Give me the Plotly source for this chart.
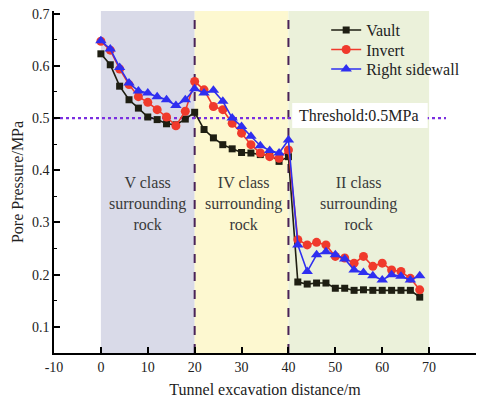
import plotly.graph_objects as go

# Excavation distance (m), one reading every 2 m
distance = list(range(0, 70, 2))

vault = [0.623, 0.602, 0.561, 0.535, 0.519, 0.502, 0.497, 0.489, 0.487, 0.498,
         0.511, 0.478, 0.462, 0.449, 0.441, 0.434, 0.433, 0.430, 0.430, 0.417,
         0.426, 0.186, 0.182, 0.184, 0.184, 0.174, 0.174, 0.170, 0.171, 0.170,
         0.170, 0.170, 0.170, 0.170, 0.157]
invert = [0.647, 0.630, 0.594, 0.564, 0.541, 0.530, 0.516, 0.502, 0.485, 0.513,
          0.570, 0.554, 0.522, 0.516, 0.490, 0.471, 0.449, 0.433, 0.426, 0.423,
          0.439, 0.267, 0.257, 0.262, 0.257, 0.235, 0.232, 0.222, 0.235, 0.216,
          0.222, 0.209, 0.206, 0.193, 0.171]
right_sidewall = [0.648, 0.632, 0.597, 0.567, 0.552, 0.548, 0.541, 0.535, 0.524, 0.535,
                  0.556, 0.548, 0.553, 0.532, 0.500, 0.484, 0.465, 0.447, 0.438, 0.433,
                  0.458, 0.257, 0.206, 0.238, 0.244, 0.238, 0.230, 0.209, 0.204, 0.198,
                  0.190, 0.200, 0.197, 0.190, 0.198]

threshold = 0.5
zone_bounds = [0, 20, 40, 70]
zone_colors = ["#d9dae8", "#fdf8d0", "#ebf1da"]
zone_labels = ["V class<br>surrounding<br>rock",
               "IV class<br>surrounding<br>rock",
               "II class<br>surrounding<br>rock"]
zone_label_x = [10, 30.5, 55]

x_ticks = list(range(-10, 81, 10))
x_ticktext = [str(v).replace("\u2212", "-") for v in x_ticks]
y_ticks = [0.1, 0.2, 0.3, 0.4, 0.5, 0.6, 0.7]

FONT = "Liberation Serif, Times New Roman, serif"
TXT = "#222222"

fig = go.Figure()

# rock-class zones
for i, col in enumerate(zone_colors):
    fig.add_shape(type="rect", xref="x", yref="y", x0=zone_bounds[i], x1=zone_bounds[i + 1],
                  y0=0.05, y1=0.705, fillcolor=col, line_width=0, layer="below")
for xb in zone_bounds[1:3]:
    fig.add_shape(type="line", xref="x", yref="y", x0=xb, x1=xb, y0=0.05, y1=0.705,
                  line=dict(color="#4a2358", width=2, dash="dash"), layer="below")

# threshold line
fig.add_trace(go.Scatter(x=[-10, 73.6], y=[threshold, threshold], mode="lines",
                         line=dict(color="#7a2ee0", width=2.2, dash="dot"),
                         showlegend=False, hoverinfo="skip"))

fig.add_trace(go.Scatter(x=distance, y=vault, name="Vault", mode="lines+markers",
                         line=dict(color="#1e1e12", width=1.6),
                         marker=dict(symbol="square", size=7, color="#1e1e12"),
                         legend="legend"))
fig.add_trace(go.Scatter(x=distance, y=invert, name="Invert", mode="lines+markers",
                         line=dict(color="#f03a2c", width=1.6),
                         marker=dict(symbol="circle", size=9, color="#f03a2c"),
                         legend="legend2"))
fig.add_trace(go.Scatter(x=distance, y=right_sidewall, name="Right sidewall", mode="lines+markers",
                         line=dict(color="#2f2ff0", width=1.6),
                         marker=dict(symbol="triangle-up", size=10, color="#2f2ff0"),
                         legend="legend3"))

# white label box over the threshold line
fig.add_shape(type="rect", xref="x", yref="y", x0=40.8, x1=69.7, y0=0.481, y1=0.529,
              fillcolor="white", line_width=0, layer="above")
fig.add_annotation(x=41.9, y=threshold + 0.004, xref="x", yref="y", text="Threshold:0.5MPa",
                   showarrow=False, xanchor="left", yanchor="middle",
                   font=dict(family=FONT, size=16, color=TXT))

for lx, lt in zip(zone_label_x, zone_labels):
    fig.add_annotation(x=lx, y=0.337, xref="x", yref="y", text=lt, showarrow=False,
                       xanchor="center", yanchor="middle",
                       font=dict(family=FONT, size=16, color="#3a3a3a"))

legend_style = dict(x=0.645, xanchor="left", yanchor="middle",
                    bgcolor="rgba(0,0,0,0)", font=dict(family=FONT, size=16, color=TXT))

fig.update_layout(
    width=482, height=399,
    margin=dict(l=54, r=6, t=11, b=46),
    paper_bgcolor="white", plot_bgcolor="white",
    font=dict(family=FONT, size=14, color=TXT),
    showlegend=True,
    legend=dict(y=0.944, **legend_style),
    legend2=dict(y=0.887, **legend_style),
    legend3=dict(y=0.830, **legend_style),
    xaxis=dict(range=[-10, 80], tickvals=x_ticks, ticktext=x_ticktext, automargin=False,
               showgrid=False, zeroline=False, showline=True, linecolor="black", linewidth=1.5,
               ticks="inside", ticklen=6, tickwidth=1.5, tickcolor="black",
               tickfont=dict(family=FONT, size=14, color=TXT),
               title=dict(text="Tunnel excavation distance/m", standoff=10,
                          font=dict(family=FONT, size=16, color=TXT))),
    yaxis=dict(range=[0.05, 0.705], tickvals=y_ticks, automargin=False,
               ticktext=[f"{v:.1f}" for v in y_ticks],
               showgrid=False, zeroline=False, showline=True, linecolor="black", linewidth=1.5,
               ticks="inside", ticklen=6, tickwidth=1.5, tickcolor="black",
               minor=dict(tickvals=[0.05, 0.15, 0.25, 0.35, 0.45, 0.55, 0.65],
                          ticks="inside", ticklen=3, tickwidth=1.2, tickcolor="black"),
               tickfont=dict(family=FONT, size=14, color=TXT),
               title=dict(text="Pore Pressure/MPa", standoff=4,
                          font=dict(family=FONT, size=16, color=TXT))),
)

fig.write_html("out.html")
